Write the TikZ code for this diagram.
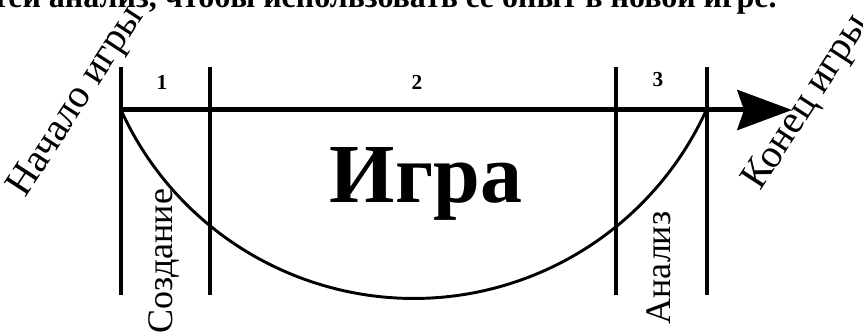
\documentclass[tikz,border=0pt]{standalone}
\usepackage{fontspec}
\setmainfont{Liberation Serif}
\usetikzlibrary{arrows.meta,positioning}

\begin{document}
\begin{tikzpicture}[
    x=0.75pt, y=-0.75pt,
    >=Stealth,
    border/.style={line width=3pt},
    timeline/.style={line width=3.75pt,
                     -{Stealth[length=41pt, width=30pt, inset=5pt]}},
    phase/.style={font=\fontsize{16}{16}\selectfont\bfseries, inner sep=0pt},
    side/.style={font=\fontsize{27}{27}\selectfont, inner sep=0pt, anchor=base},
    slant/.style={side, font=\fontsize{30}{30}\selectfont, rotate=57}
]
    \clip (0,0) rectangle (863,334);
    % page text above the figure
    \node[font=\fontsize{24}{24}\selectfont\bfseries, anchor=base east,
          inner sep=0pt] (pagetext) at (777,8)
        {тей анализ, чтобы использовать ее опыт в новой игре.};

    % stage borders
    \foreach \n/\x in {1/121, 2/210, 3/616, 4/707} {
        \coordinate (t\n) at (\x,67);
        \coordinate (b\n) at (\x,295);
        \draw[border] (t\n) -- (b\n);
    }

    % time axis and the game curve
    \coordinate (start) at (121,110);
    \coordinate (finish) at (792,110);
    \draw[line width=2.2pt] (start)
        arc[start angle=155.54, end angle=24.46, radius=321.54];
    \draw[timeline] (start) -- (finish);

    \node[phase] (p1) at (162,82) {1};
    \node[phase] (p2) at (417,82) {2};
    \node[phase] (p3) at (658,80) {3};

    \node[font=\fontsize{63}{63}\selectfont\bfseries, inner sep=0pt,
          anchor=base] (game) at (426,203) {Игра};

    \node[slant] (begin) at (85,107) {Начало игры};
    \node[slant] (end) at (815,108) {Конец игры};
    \node[side, rotate=90] (create) at (172,261) {Создание};
    \node[side, rotate=90] (analysis) at (670,268) {Анализ};
\end{tikzpicture}
\end{document}
